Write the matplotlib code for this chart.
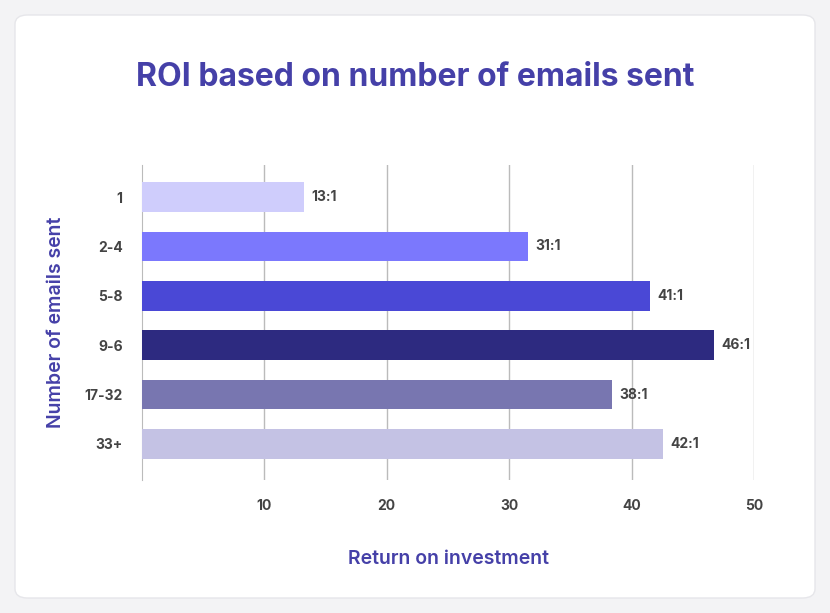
import matplotlib
matplotlib.use("Agg")
import matplotlib.pyplot as plt
from matplotlib.patches import FancyBboxPatch

categories = ["1", "2-4", "5-8", "9-6", "17-32", "33+"]
values = [13.2, 31.5, 41.5, 46.7, 38.4, 42.6]
labels = ["13:1", "31:1", "41:1", "46:1", "38:1", "42:1"]
colors = ["#cfcdfc", "#7b78fd", "#4a48d6", "#2d2a80", "#7876b0", "#c4c2e4"]
xticks = [10, 20, 30, 40, 50]

W, H = 830, 613
fig = plt.figure(figsize=(W/100, H/100), dpi=100)
fig.patch.set_facecolor("#f3f3f5")
card = FancyBboxPatch((15/W, 15/H), 800/W, 583/H, boxstyle="round,pad=0,rounding_size=0.015",
                      transform=fig.transFigure, facecolor="white", edgecolor="#e6e6ea", zorder=-5)
fig.patches.append(card)

ax = fig.add_axes([142/W, 1-480/H, 612/W, 315/H])
ax.set_facecolor("none")
y = list(range(len(categories)))
ax.barh(y, values, height=0.6, color=colors, zorder=3)
for yi, v, lab in zip(y, values, labels):
    ax.text(v + 0.6, yi, lab, va="center", ha="left", fontsize=10, color="#444444",
            fontweight="bold", family="Inter")
ax.set_xlim(0, 50)
ax.set_ylim(5.73, -0.65)
ax.set_yticks(y)
ax.set_yticklabels(categories)
ax.set_xticks(xticks)
ax.grid(axis="x", color="#bbbbbb", linewidth=1, zorder=0)
for s in ["top", "right", "bottom"]:
    ax.spines[s].set_visible(False)
ax.spines["left"].set_color("#bbbbbb")
ax.tick_params(length=0, labelsize=10, labelcolor="#444444", pad=14)
for t in ax.get_xticklabels() + ax.get_yticklabels():
    t.set_fontweight("bold"); t.set_family("Inter")
ax.set_xlabel("Return on investment", fontsize=14, color="#4540a8", family="Inter",
              fontweight="semibold", labelpad=26)
ax.set_ylabel("Number of emails sent", fontsize=14, color="#4540a8", family="Inter",
              fontweight="semibold", labelpad=14)
fig.text(0.5, 1-77/H, "ROI based on number of emails sent", ha="center", va="center",
         fontsize=23, fontweight="bold", color="#4540a8", family="Inter")
fig.savefig("out.png", dpi=100, facecolor=fig.get_facecolor())
